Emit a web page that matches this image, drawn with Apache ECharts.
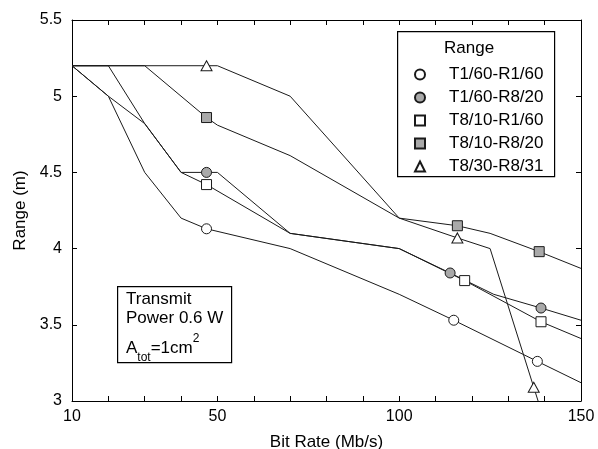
<!DOCTYPE html>
<html>
<head>
<meta charset="utf-8">
<script src="https://cdn.jsdelivr.net/npm/echarts@6/dist/echarts.min.js"></script>
<style>
  html, body { margin: 0; padding: 0; background: #fff; }
  #chart { width: 598px; height: 449px; }
</style>
</head>
<body>
<div id="chart"></div>
<script>
// tick labels shown on the bit-rate axis
const xTickLabels = [10, 50, 100, 150]

// series names (legend order)
const seriesNames = ['T1/60-R1/60', 'T1/60-R8/20', 'T8/10-R1/60', 'T8/10-R8/20', 'T8/30-R8/31']

// model curves (x = bit rate, y = range)
const curveX1 = [10, 20, 30, 40, 47, 70, 100, 115, 138, 150]
const curveY1 = [5.2, 5.0, 4.5, 4.2, 4.13, 4.0, 3.7, 3.53, 3.26, 3.12]
const curveX2 = [10, 20, 30, 40, 50, 70, 100, 114, 126, 139, 150]
const curveY2 = [5.2, 5.0, 4.82, 4.5, 4.5, 4.1, 4.0, 3.84, 3.7, 3.61, 3.53]
const curveX3 = [10, 20, 30, 40, 47, 70, 100, 118, 139, 150]
const curveY3 = [5.2, 5.2, 4.82, 4.5, 4.42, 4.1, 4.0, 3.79, 3.52, 3.41]
const curveX4 = [10, 30, 47, 50, 70, 100, 116, 125, 138.5, 150]
const curveY4 = [5.2, 5.2, 4.86, 4.81, 4.61, 4.2, 4.15, 4.1, 3.98, 3.87]
const curveX5 = [10, 50, 70, 100, 116, 125, 137, 138.2]
const curveY5 = [5.2, 5.2, 5.0, 4.2, 4.07, 4.0, 3.09, 3.0]

// measured points
const markX1 = [47, 115, 138]
const markY1 = [4.13, 3.53, 3.26]
const markX2 = [47, 114, 139]
const markY2 = [4.5, 3.84, 3.61]
const markX3 = [47, 118, 139]
const markY3 = [4.42, 3.79, 3.52]
const markX4 = [47, 116, 138.5]
const markY4 = [4.86, 4.15, 3.98]
const markX5 = [47, 116, 137]
const markY5 = [5.2, 4.07, 3.09]

const curves = [[curveX1, curveY1], [curveX2, curveY2], [curveX3, curveY3], [curveX4, curveY4], [curveX5, curveY5]]
const marks = [[markX1, markY1], [markX2, markY2], [markX3, markY3], [markX4, markY4], [markX5, markY5]]

const FONT = '"Liberation Sans", Arial, Helvetica, sans-serif'
const INK = '#1a1a1a'
const GRAY = '#a9a9a9'
const symbols = ['circle', 'circle', 'rect', 'rect', 'triangle']
const fills = ['#fff', GRAY, '#fff', GRAY, '#fff']

const pairs = (xs, ys) => xs.map((x, i) => [x, ys[i]])

const chart = echarts.init(document.getElementById('chart'))

const lineSeries = curves.map(([xs, ys], i) => ({
  name: 'curve' + i,
  type: 'line',
  data: pairs(xs, ys),
  showSymbol: false,
  symbol: 'none',
  silent: true,
  z: 2,
  lineStyle: { color: INK, width: 1 },
}))

const markSeries = marks.map(([xs, ys], i) => ({
  name: seriesNames[i],
  type: 'scatter',
  data: pairs(xs, ys),
  symbol: symbols[i],
  symbolSize: symbols[i] === 'triangle' ? [11, 10] : 10,
  z: 4,
  itemStyle: { color: fills[i], borderColor: INK, borderWidth: 1, opacity: 1 },
}))

const axisCommon = {
  axisLine: { lineStyle: { color: '#000', width: 1 } },
  axisTick: { inside: true, length: 5, lineStyle: { color: '#000' } },
  splitLine: { show: false },
}

chart.setOption({
  animation: false,
  backgroundColor: '#fff',
  textStyle: { fontFamily: FONT },
  grid: { left: 72, right: 17, top: 20, bottom: 48, containLabel: false, outerBoundsMode: 'none' },
  xAxis: [
    {
      ...axisCommon,
      type: 'value', min: 10, max: 150, interval: 10, position: 'bottom',
      axisLabel: {
        color: '#000', fontSize: 16, margin: 8, fontFamily: FONT,
        formatter: v => (xTickLabels.includes(v) ? String(v) : ''),
      },
      name: 'Bit Rate (Mb/s)', nameLocation: 'middle', nameGap: 33,
      nameTextStyle: { color: '#000', fontSize: 17, fontFamily: FONT },
    },
    {
      ...axisCommon,
      type: 'value', min: 10, max: 150, interval: 10, position: 'top',
      axisLabel: { show: false },
    },
  ],
  yAxis: [
    {
      ...axisCommon,
      type: 'value', min: 3, max: 5.5, interval: 0.5, position: 'left',
      axisLabel: { color: '#000', fontSize: 16, margin: 10, fontFamily: FONT },
      name: 'Range (m)', nameLocation: 'middle', nameGap: 42,
      nameTextStyle: { color: '#000', fontSize: 17, fontFamily: FONT },
    },
    {
      ...axisCommon,
      type: 'value', min: 3, max: 5.5, interval: 0.5, position: 'right',
      axisLabel: { show: false },
    },
  ],
  legend: {
    data: seriesNames,
    orient: 'vertical',
    left: 409, top: 61,
    itemWidth: 10, itemHeight: 10, itemGap: 6,
    selectedMode: false,
    textStyle: { color: '#000', fontSize: 17, fontFamily: FONT, padding: [0, 0, 0, 19] },
  },
  graphic: [
    {
      type: 'rect', left: 397, top: 31, z: 1,
      shape: { width: 157, height: 145 },
      style: { fill: '#fff', stroke: '#000', lineWidth: 1.2 },
    },
    {
      type: 'text', left: 444, top: 40, z: 5,
      style: { text: 'Range', font: '17px ' + FONT, fill: '#000' },
    },
    {
      type: 'rect', left: 117, top: 286, z: 1,
      shape: { width: 114, height: 76 },
      style: { fill: '#fff', stroke: '#000', lineWidth: 1.2 },
    },
    {
      type: 'text', left: 126, top: 290, z: 5,
      style: { text: 'Transmit\nPower 0.6 W', font: '17px ' + FONT, fill: '#000', lineHeight: 19 },
    },
    {
      type: 'text', left: 126, top: 333, z: 5,
      style: {
        text: '{a|A}{sub|tot}{a|=1cm}{sup|2}',
        fill: '#000',
        rich: {
          a: { fontSize: 17, fontFamily: FONT, lineHeight: 24, verticalAlign: 'middle' },
          sub: { fontSize: 12, fontFamily: FONT, lineHeight: 24, verticalAlign: 'bottom', padding: [0, 0, -4, 0] },
          sup: { fontSize: 12, fontFamily: FONT, lineHeight: 24, verticalAlign: 'top', padding: [-3, 0, 0, 0] },
        },
      },
    },
  ],
  series: [...lineSeries, ...markSeries],
})
</script>
</body>
</html>
